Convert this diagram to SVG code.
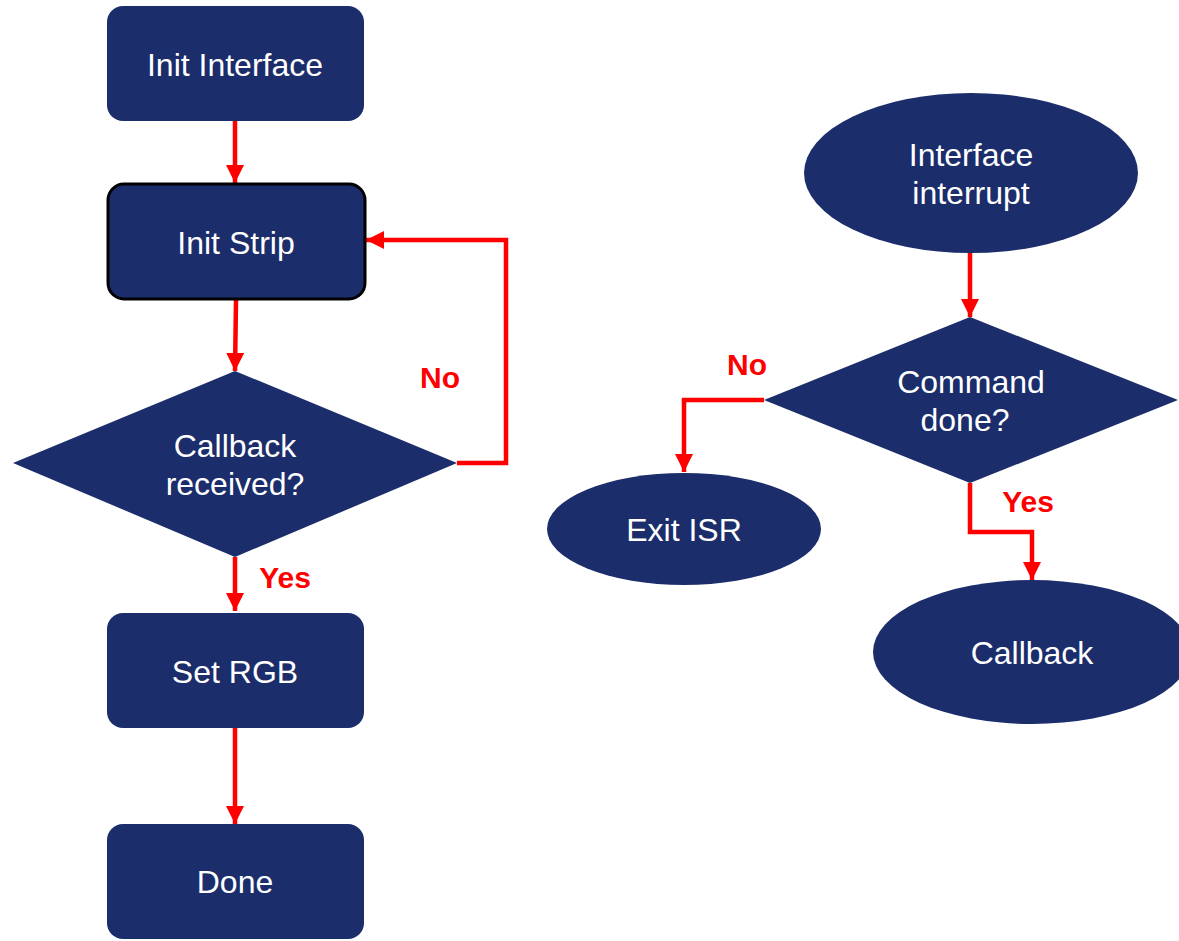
<svg xmlns="http://www.w3.org/2000/svg" width="1179" height="941" viewBox="0 0 1179 941">
<style>
.n{fill:#1b2d6a}
.t{fill:#fff;font-family:"Liberation Sans",Arial,sans-serif;font-size:32px;text-anchor:middle}
.c{fill:none;stroke:#ff0000;stroke-width:4.5;marker-end:url(#ah)}
.l{fill:#ff0000;font-family:"Liberation Sans",Arial,sans-serif;font-size:30px;font-weight:bold;text-anchor:middle}
</style>
<defs>
<marker id="ah" markerUnits="userSpaceOnUse" markerWidth="18" markerHeight="18" viewBox="0 0 18 18" refX="18" refY="9" orient="auto">
<path d="M0,0 L18,9 L0,18 Z" fill="#ff0000"/>
</marker>
</defs>
<rect width="1179" height="941" fill="#fff"/>
<g id="connectors">
<path class="c" d="M235,121 L235,183"/>
<path class="c" d="M236,300 L235,371"/>
<path class="c" d="M457,463 L506,463 L506,240 L366,240"/>
<path class="c" d="M235,557 L235,611"/>
<path class="c" d="M235,728 L235,824"/>
<path class="c" d="M970,253 L970,317"/>
<path class="c" d="M764,400 L684,400 L684,472"/>
<path class="c" d="M970,483 L970,532 L1032,532 L1032,580"/>
</g>
<g id="labels">
<text class="l" x="440" y="388">No</text>
<text class="l" x="285" y="588">Yes</text>
<text class="l" x="747" y="375">No</text>
<text class="l" x="1028" y="512">Yes</text>
</g>
<g id="init-interface"><rect class="n" x="107" y="6" width="257" height="115" rx="16"/><text class="t" x="235" y="76">Init Interface</text></g>
<g id="init-strip"><rect class="n" x="108" y="184" width="257" height="115" rx="16" stroke="#000" stroke-width="3"/><text class="t" x="236" y="254">Init Strip</text></g>
<g id="callback-received"><polygon class="n" points="235,371 457,463 235,557 13,463"/><text class="t" x="235" y="457">Callback</text><text class="t" x="235" y="495">received?</text></g>
<g id="set-rgb"><rect class="n" x="107" y="613" width="257" height="115" rx="16"/><text class="t" x="235" y="683">Set RGB</text></g>
<g id="done"><rect class="n" x="107" y="824" width="257" height="115" rx="16"/><text class="t" x="235" y="893">Done</text></g>
<g id="interface-interrupt"><ellipse class="n" cx="971" cy="173" rx="167" ry="80"/><text class="t" x="971" y="166">Interface</text><text class="t" x="971" y="204">interrupt</text></g>
<g id="command-done"><polygon class="n" points="970,317 1178,400 970,483 764,400"/><text class="t" x="971" y="393">Command</text><text class="t" x="965" y="431">done?</text></g>
<g id="exit-isr"><ellipse class="n" cx="684" cy="529" rx="137" ry="56"/><text class="t" x="684" y="541">Exit ISR</text></g>
<g id="callback"><ellipse class="n" cx="1032" cy="652" rx="159" ry="72"/><text class="t" x="1032" y="664">Callback</text></g>
</svg>
